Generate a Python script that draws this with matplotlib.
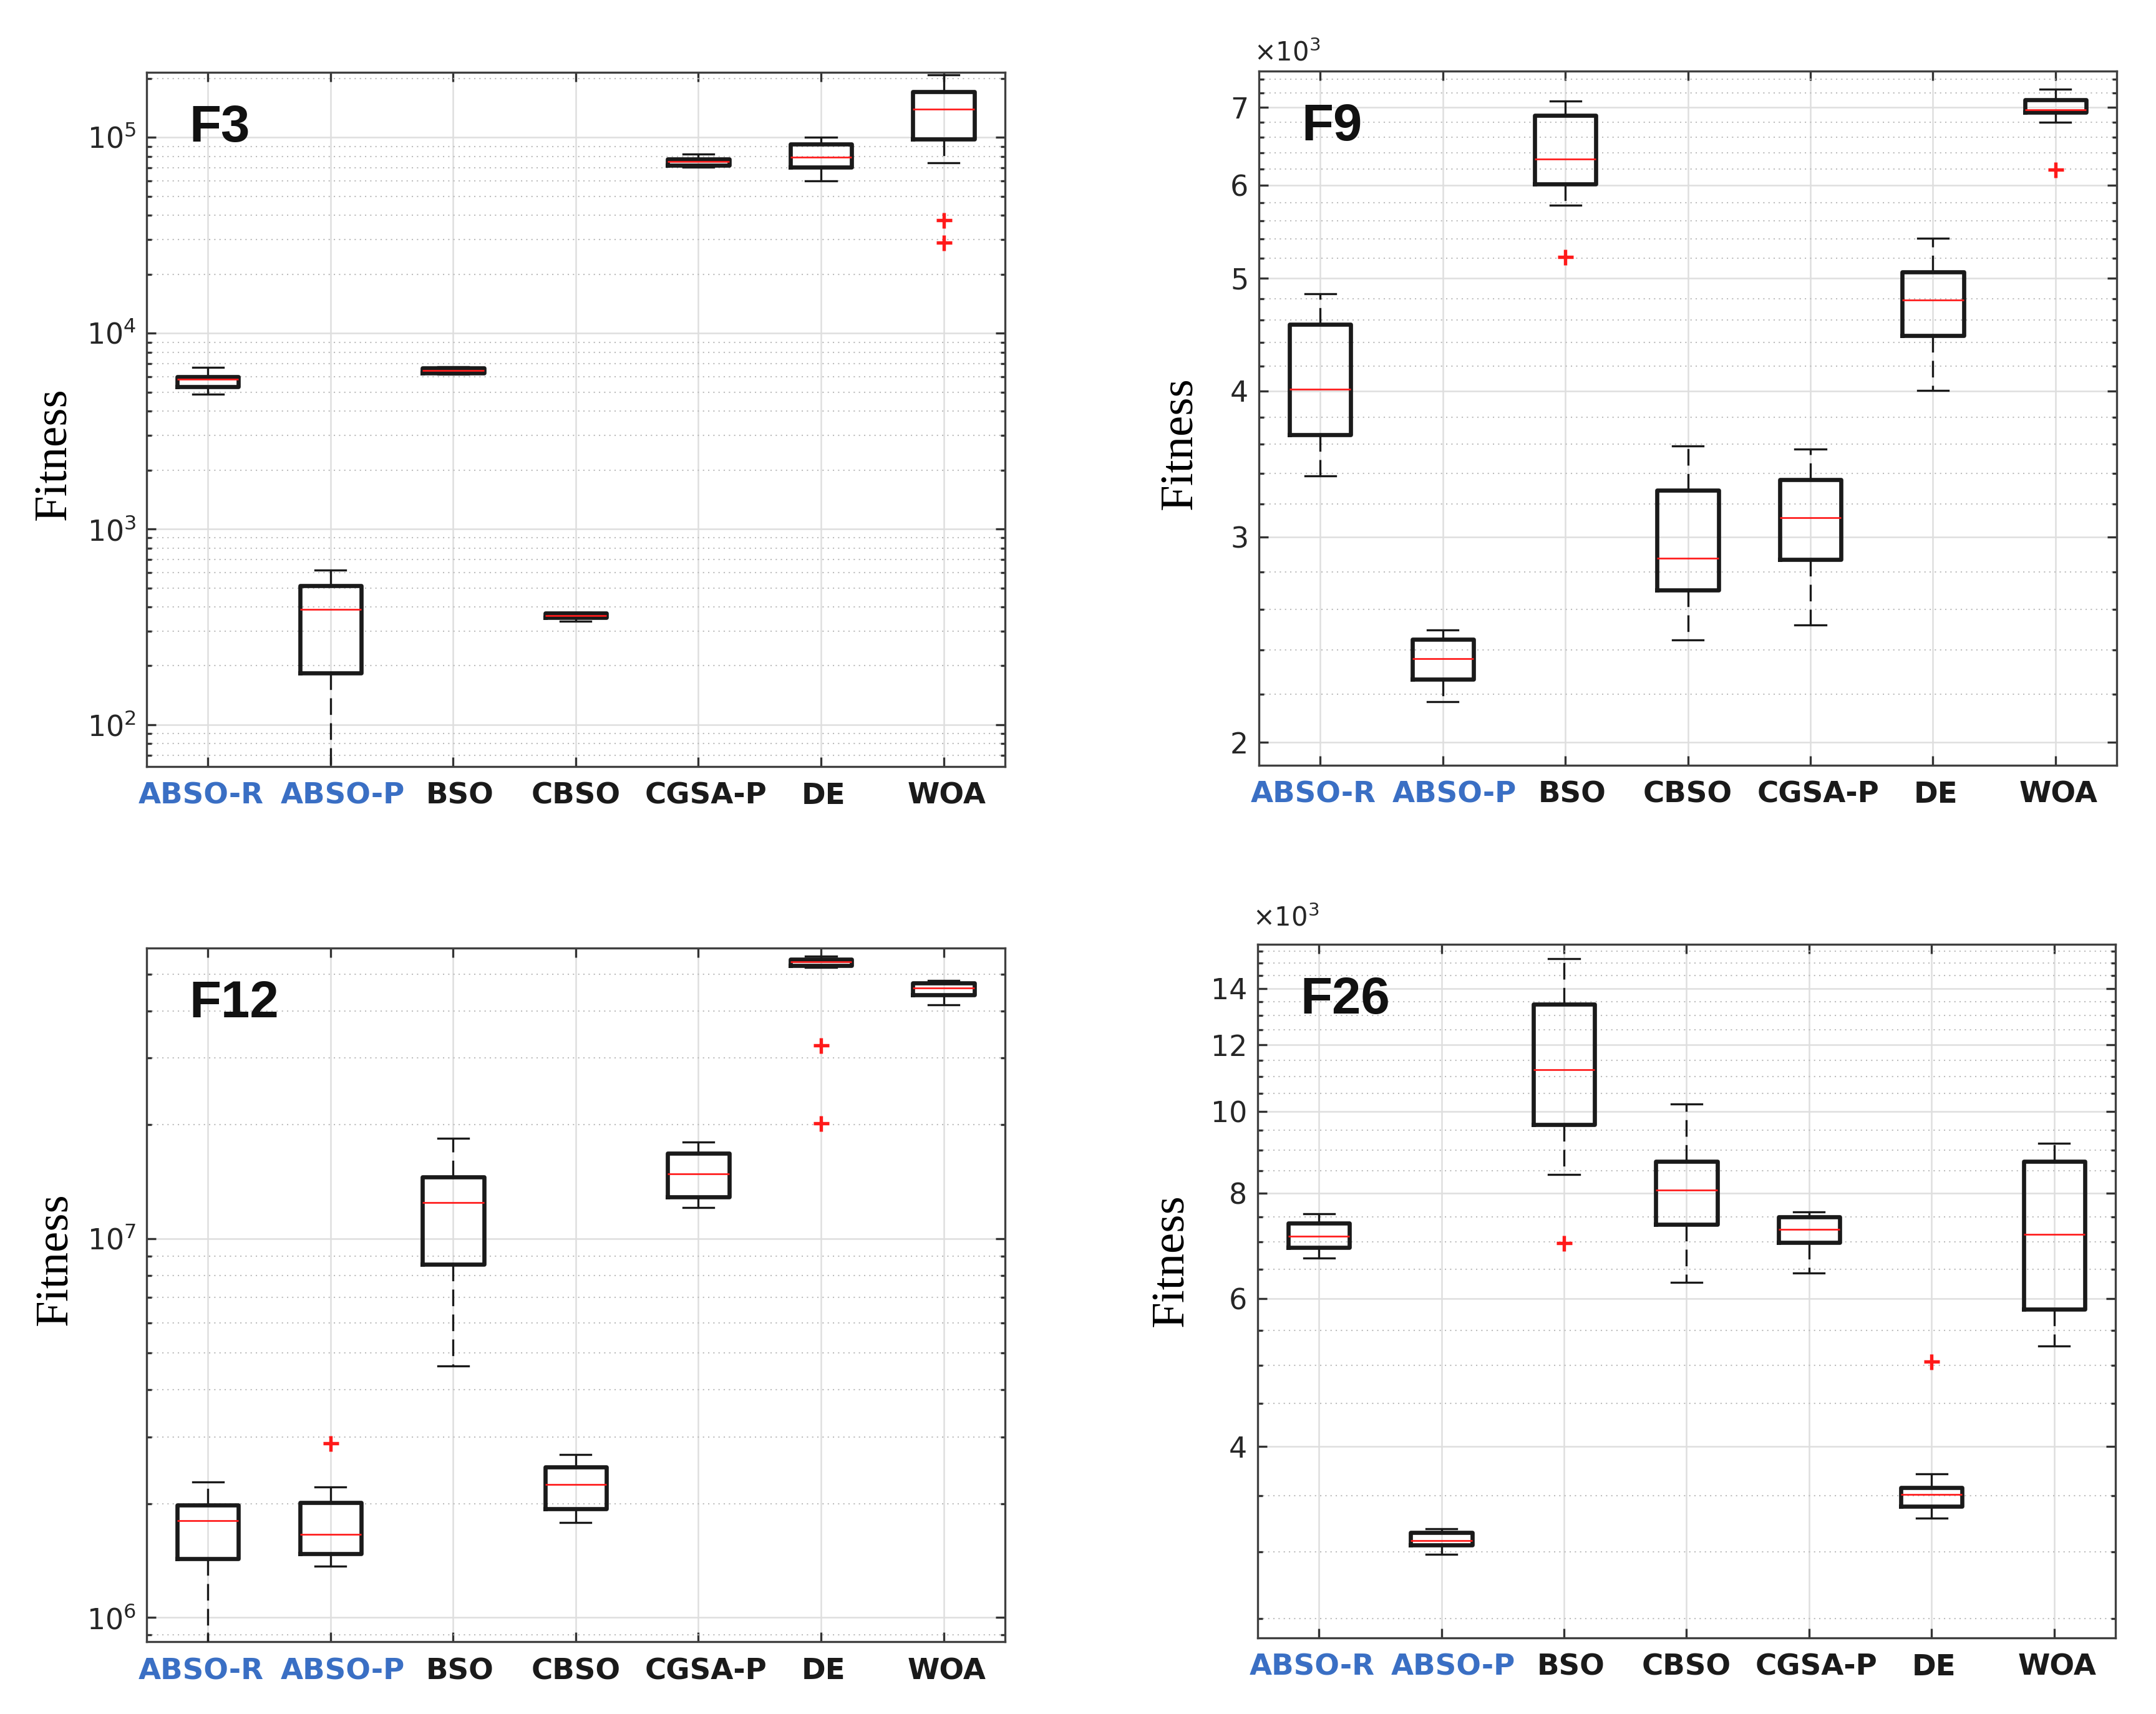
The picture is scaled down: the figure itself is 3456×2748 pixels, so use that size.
import matplotlib
matplotlib.use('Agg')
import matplotlib.pyplot as plt
import matplotlib.transforms as mtransforms
from matplotlib.ticker import (LogLocator, FixedLocator, MultipleLocator,
                               FuncFormatter, NullFormatter, NullLocator)

plt.rcParams['font.family'] = ['DejaVu Sans']
plt.rcParams['mathtext.fontset'] = 'dejavusans'

algorithms = ['ABSO-R', 'ABSO-P', 'BSO', 'CBSO', 'CGSA-P', 'DE', 'WOA']
label_colors = ['#3a6fc4', '#3a6fc4', '#1a1a1a', '#1a1a1a', '#1a1a1a', '#1a1a1a', '#1a1a1a']

# ---- F3 ----
f3_whislo = [4875, 40, 6160, 337, 70500, 60100, 74300]
f3_q1 = [5320, 184, 6270, 352, 72100, 70500, 97700]
f3_med = [5810, 388, 6450, 362, 75100, 79100, 139500]
f3_q3 = [5980, 514, 6640, 372, 77300, 92150, 171000]
f3_whishi = [6714, 615, 6720, 375, 82400, 100000, 209000]
f3_fliers = [[], [], [], [], [], [], [37900, 29000]]

# ---- F9 ----
f9_whislo = [3382, 2166, 5769, 2446, 2521, 4003, 6797]
f9_q1 = [3668, 2265, 6015, 2702, 2869, 4460, 6936]
f9_med = [4015, 2359, 6320, 2874, 3116, 4788, 6972]
f9_q3 = [4560, 2449, 6887, 3287, 3358, 5058, 7107]
f9_whishi = [4845, 2495, 7093, 3590, 3568, 5405, 7260]
f9_fliers = [[], [], [5213], [], [], [], [6193]]

# ---- F12 ----
f12_whislo = [7.0e5, 1.365e6, 4.62e6, 1.785e6, 1.208e7, 5.21e7, 4.155e7]
f12_q1 = [1.429e6, 1.477e6, 8.56e6, 1.939e6, 1.292e7, 5.27e7, 4.40e7]
f12_med = [1.801e6, 1.659e6, 1.246e7, 2.244e6, 1.486e7, 5.38e7, 4.596e7]
f12_q3 = [1.986e6, 2.011e6, 1.455e7, 2.497e6, 1.68e7, 5.47e7, 4.74e7]
f12_whishi = [2.278e6, 2.217e6, 1.846e7, 2.695e6, 1.80e7, 5.58e7, 4.81e7]
f12_fliers = [[], [2.89e6], [], [], [], [3.246e7, 2.017e7], []]

# ---- F26 ----
f26_whislo = [6700, 2982, 8421, 6265, 6435, 3291, 5268]
f26_q1 = [6898, 3057, 9656, 7345, 6989, 3400, 5826]
f26_med = [7112, 3093, 11220, 8061, 7249, 3510, 7153]
f26_q3 = [7375, 3161, 13400, 8732, 7496, 3577, 8732]
f26_whishi = [7560, 3198, 15190, 10205, 7594, 3714, 9176]
f26_fliers = [[], [], [6978], [], [], [5043], []]

f9_major = [2000, 3000, 4000, 5000, 6000, 7000]
f26_major = [4000, 6000, 8000, 10000, 12000, 14000]

panels = [
    dict(name='F3', data=(f3_whislo, f3_q1, f3_med, f3_q3, f3_whishi, f3_fliers),
         rect=[0.0680, 0.5528, 0.3981, 0.4050], ylim=(61.2, 2.15e5), kind='log',
         lab=(-0.107, 0.45)),
    dict(name='F9', data=(f9_whislo, f9_q1, f9_med, f9_q3, f9_whishi, f9_fliers),
         rect=[0.5839, 0.5535, 0.3979, 0.4050], ylim=(1911, 7520), kind='k',
         major=f9_major, minor=200, lab=(-0.091, 0.464), mult_y=1.015),
    dict(name='F12', data=(f12_whislo, f12_q1, f12_med, f12_q3, f12_whishi, f12_fliers),
         rect=[0.0680, 0.0422, 0.3981, 0.4047], ylim=(8.64e5, 5.86e7), kind='log',
         lab=(-0.106, 0.552)),
    dict(name='F26', data=(f26_whislo, f26_q1, f26_med, f26_q3, f26_whishi, f26_fliers),
         rect=[0.5833, 0.0444, 0.3979, 0.4047], ylim=(2371, 15800), kind='k',
         major=f26_major, minor=500, lab=(-0.0996, 0.544), mult_y=1.026),
]

# horizontal nudges of x tick labels (points), as in the original layout
label_nudge_pt = [-2.6, 4.6, 2.6, 0.0, 2.9, 1.0, 1.2]

fig = plt.figure(figsize=(11.52, 9.16), dpi=300)

for p in panels:
    ax = fig.add_axes(p['rect'])
    wl, q1, md, q3, wh, fl = p['data']
    stats = []
    for i in range(len(algorithms)):
        stats.append(dict(whislo=wl[i], q1=q1[i], med=md[i], q3=q3[i],
                          whishi=wh[i], fliers=fl[i], label=algorithms[i]))
    ax.set_yscale('log')
    ax.bxp(stats, positions=range(1, 8), widths=0.5, showfliers=True,
           boxprops=dict(color='#1a1a1a', linewidth=1.6),
           medianprops=dict(color='#ff1a1a', linewidth=0.65),
           whiskerprops=dict(color='#1a1a1a', linewidth=0.8, linestyle=(0, (8, 4))),
           capprops=dict(color='#1a1a1a', linewidth=0.8),
           flierprops=dict(marker='+', markeredgecolor='#ff1a1a', markersize=6,
                           markeredgewidth=1.3, linestyle='none'),
           zorder=3)
    ax.set_xlim(0.5, 7.5)
    ax.set_ylim(*p['ylim'])
    ax.set_xticks(range(1, 8))
    ax.xaxis.set_minor_locator(NullLocator())

    if p['kind'] == 'log':
        ax.yaxis.set_major_locator(LogLocator(base=10))
        ax.yaxis.set_minor_locator(LogLocator(base=10, subs=range(2, 10), numticks=20))
        ax.yaxis.set_minor_formatter(NullFormatter())
    else:
        ax.yaxis.set_major_locator(FixedLocator(p['major']))
        ax.yaxis.set_minor_locator(MultipleLocator(p['minor']))
        ax.yaxis.set_major_formatter(FuncFormatter(lambda v, pos: f'{v/1000:g}'))
        ax.yaxis.set_minor_formatter(NullFormatter())
        ax.text(-0.006, p['mult_y'], r'$\times\mathdefault{10^{3}}$', transform=ax.transAxes,
                fontsize=10, ha='left', va='baseline', color='#262626')

    ax.tick_params(axis='y', which='major', labelsize=11, labelcolor='#262626', pad=4)
    ax.tick_params(which='both', direction='in', top=True, right=True,
                   color='#333333', width=0.8)
    ax.tick_params(which='major', length=3.5)
    ax.tick_params(which='minor', length=1.8)
    ax.tick_params(axis='x', pad=6)

    ax.set_xticklabels(algorithms, fontsize=11.2, fontweight='bold',
                       family=['DejaVu Sans'])
    for t, c, dx in zip(ax.get_xticklabels(), label_colors, label_nudge_pt):
        t.set_color(c)
        t.set_transform(t.get_transform() +
                        mtransforms.ScaledTranslation(dx / 72, 0, fig.dpi_scale_trans))

    ax.grid(True, which='major', color='#dedede', linestyle='-', linewidth=0.6, zorder=0)
    ax.grid(True, which='minor', axis='y', color='#bdbdbd', linestyle=(0, (1, 3)),
            linewidth=0.5, zorder=0)
    ax.set_axisbelow(True)
    for s in ax.spines.values():
        s.set_color('#404040')
        s.set_linewidth(0.8)

    ax.set_ylabel('Fitness', fontsize=18, va='center',
                  family=['Liberation Serif', 'DejaVu Serif'])
    ax.yaxis.set_label_coords(*p['lab'])

    ax.text(0.05, 0.90, p['name'], transform=ax.transAxes, fontsize=20,
            fontweight='bold', family=['Liberation Sans', 'DejaVu Sans'],
            ha='left', va='baseline', color='#111111', zorder=5)

fig.savefig('out.png', dpi=300)
